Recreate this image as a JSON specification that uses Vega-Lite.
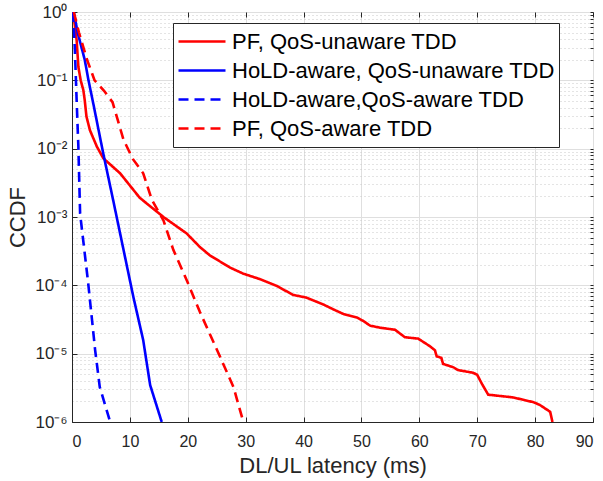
{
  "$schema": "https://vega.github.io/schema/vega-lite/v6.json",
  "autosize": {"type": "none"},
  "padding": {"left": 72, "top": 12, "right": 10, "bottom": 59},
  "width": 521,
  "height": 410,
  "background": "white",
  "config": {
    "font": "Liberation Sans",
    "view": {"stroke": "#262626", "strokeWidth": 1},
    "axis": {"labelFont": "Liberation Sans", "titleFont": "Liberation Sans", "labelColor": "#262626", "titleColor": "#262626", "domainColor": "#262626", "tickColor": "#262626", "titleFontWeight": "normal"}
  },
  "data": {"values": [
    {"series": "PF, QoS-unaware TDD", "i": 0, "x": 0.2, "y": 1},
    {"series": "PF, QoS-unaware TDD", "i": 1, "x": 0.8, "y": 0.389},
    {"series": "PF, QoS-unaware TDD", "i": 2, "x": 1.1, "y": 0.158},
    {"series": "PF, QoS-unaware TDD", "i": 3, "x": 1.5, "y": 0.1},
    {"series": "PF, QoS-unaware TDD", "i": 4, "x": 1.95, "y": 0.0724},
    {"series": "PF, QoS-unaware TDD", "i": 5, "x": 2.2, "y": 0.0513},
    {"series": "PF, QoS-unaware TDD", "i": 6, "x": 2.5, "y": 0.0295},
    {"series": "PF, QoS-unaware TDD", "i": 7, "x": 3.1, "y": 0.0186},
    {"series": "PF, QoS-unaware TDD", "i": 8, "x": 4.3, "y": 0.0107},
    {"series": "PF, QoS-unaware TDD", "i": 9, "x": 5.4, "y": 0.00724},
    {"series": "PF, QoS-unaware TDD", "i": 10, "x": 8.3, "y": 0.00437},
    {"series": "PF, QoS-unaware TDD", "i": 11, "x": 11.7, "y": 0.00191},
    {"series": "PF, QoS-unaware TDD", "i": 12, "x": 15.8, "y": 0.001},
    {"series": "PF, QoS-unaware TDD", "i": 13, "x": 19.8, "y": 0.000575},
    {"series": "PF, QoS-unaware TDD", "i": 14, "x": 22.1, "y": 0.000363},
    {"series": "PF, QoS-unaware TDD", "i": 15, "x": 23.8, "y": 0.000275},
    {"series": "PF, QoS-unaware TDD", "i": 16, "x": 27.3, "y": 0.000182},
    {"series": "PF, QoS-unaware TDD", "i": 17, "x": 29.6, "y": 0.000148},
    {"series": "PF, QoS-unaware TDD", "i": 18, "x": 32.5, "y": 0.000123},
    {"series": "PF, QoS-unaware TDD", "i": 19, "x": 35.4, "y": 0.0000977},
    {"series": "PF, QoS-unaware TDD", "i": 20, "x": 38.2, "y": 0.0000724},
    {"series": "PF, QoS-unaware TDD", "i": 21, "x": 40.5, "y": 0.0000661},
    {"series": "PF, QoS-unaware TDD", "i": 22, "x": 43.4, "y": 0.0000525},
    {"series": "PF, QoS-unaware TDD", "i": 23, "x": 45.1, "y": 0.0000447},
    {"series": "PF, QoS-unaware TDD", "i": 24, "x": 46.9, "y": 0.000038},
    {"series": "PF, QoS-unaware TDD", "i": 25, "x": 49.2, "y": 0.0000339},
    {"series": "PF, QoS-unaware TDD", "i": 26, "x": 50.3, "y": 0.0000302},
    {"series": "PF, QoS-unaware TDD", "i": 27, "x": 51.5, "y": 0.0000257},
    {"series": "PF, QoS-unaware TDD", "i": 28, "x": 53.2, "y": 0.000024},
    {"series": "PF, QoS-unaware TDD", "i": 29, "x": 55.8, "y": 0.0000224},
    {"series": "PF, QoS-unaware TDD", "i": 30, "x": 57.5, "y": 0.0000174},
    {"series": "PF, QoS-unaware TDD", "i": 31, "x": 59.8, "y": 0.0000166},
    {"series": "PF, QoS-unaware TDD", "i": 32, "x": 61.8, "y": 0.0000129},
    {"series": "PF, QoS-unaware TDD", "i": 33, "x": 62.7, "y": 0.0000112},
    {"series": "PF, QoS-unaware TDD", "i": 34, "x": 63.0, "y": 0.00000912},
    {"series": "PF, QoS-unaware TDD", "i": 35, "x": 63.8, "y": 0.00000871},
    {"series": "PF, QoS-unaware TDD", "i": 36, "x": 64.1, "y": 0.00000708},
    {"series": "PF, QoS-unaware TDD", "i": 37, "x": 65.9, "y": 0.00000631},
    {"series": "PF, QoS-unaware TDD", "i": 38, "x": 66.7, "y": 0.00000575},
    {"series": "PF, QoS-unaware TDD", "i": 39, "x": 69.3, "y": 0.00000525},
    {"series": "PF, QoS-unaware TDD", "i": 40, "x": 70.0, "y": 0.0000049},
    {"series": "PF, QoS-unaware TDD", "i": 41, "x": 70.8, "y": 0.00000363},
    {"series": "PF, QoS-unaware TDD", "i": 42, "x": 71.9, "y": 0.00000251},
    {"series": "PF, QoS-unaware TDD", "i": 43, "x": 76.2, "y": 0.00000229},
    {"series": "PF, QoS-unaware TDD", "i": 44, "x": 79.7, "y": 0.00000195},
    {"series": "PF, QoS-unaware TDD", "i": 45, "x": 80.8, "y": 0.00000178},
    {"series": "PF, QoS-unaware TDD", "i": 46, "x": 82.6, "y": 0.00000141},
    {"series": "PF, QoS-unaware TDD", "i": 47, "x": 83.0, "y": 0.000001},

    {"series": "HoLD-aware, QoS-unaware TDD", "i": 0, "x": 0.3, "y": 1},
    {"series": "HoLD-aware, QoS-unaware TDD", "i": 1, "x": 1.0, "y": 0.49},
    {"series": "HoLD-aware, QoS-unaware TDD", "i": 2, "x": 2.2, "y": 0.2},
    {"series": "HoLD-aware, QoS-unaware TDD", "i": 3, "x": 2.85, "y": 0.1},
    {"series": "HoLD-aware, QoS-unaware TDD", "i": 4, "x": 3.7, "y": 0.0447},
    {"series": "HoLD-aware, QoS-unaware TDD", "i": 5, "x": 5.4, "y": 0.0085},
    {"series": "HoLD-aware, QoS-unaware TDD", "i": 6, "x": 7.1, "y": 0.00178},
    {"series": "HoLD-aware, QoS-unaware TDD", "i": 7, "x": 8.9, "y": 0.000331},
    {"series": "HoLD-aware, QoS-unaware TDD", "i": 8, "x": 10.6, "y": 0.0000676},
    {"series": "HoLD-aware, QoS-unaware TDD", "i": 9, "x": 12.3, "y": 0.0000158},
    {"series": "HoLD-aware, QoS-unaware TDD", "i": 10, "x": 13.5, "y": 0.00000347},
    {"series": "HoLD-aware, QoS-unaware TDD", "i": 11, "x": 15.5, "y": 0.000001},

    {"series": "HoLD-aware,QoS-aware TDD", "i": 0, "x": 0.2, "y": 1},
    {"series": "HoLD-aware,QoS-aware TDD", "i": 1, "x": 0.5, "y": 0.275},
    {"series": "HoLD-aware,QoS-aware TDD", "i": 2, "x": 0.8, "y": 0.0513},
    {"series": "HoLD-aware,QoS-aware TDD", "i": 3, "x": 1.1, "y": 0.0107},
    {"series": "HoLD-aware,QoS-aware TDD", "i": 4, "x": 1.4, "y": 0.00112},
    {"series": "HoLD-aware,QoS-aware TDD", "i": 5, "x": 2.8, "y": 0.000107},
    {"series": "HoLD-aware,QoS-aware TDD", "i": 6, "x": 4.0, "y": 0.0000112},
    {"series": "HoLD-aware,QoS-aware TDD", "i": 7, "x": 4.8, "y": 0.00000324},
    {"series": "HoLD-aware,QoS-aware TDD", "i": 8, "x": 6.6, "y": 0.000001},

    {"series": "PF, QoS-aware TDD", "i": 0, "x": 0.3, "y": 1},
    {"series": "PF, QoS-aware TDD", "i": 1, "x": 1.2, "y": 0.501},
    {"series": "PF, QoS-aware TDD", "i": 2, "x": 2.6, "y": 0.2},
    {"series": "PF, QoS-aware TDD", "i": 3, "x": 3.9, "y": 0.1},
    {"series": "PF, QoS-aware TDD", "i": 4, "x": 5.5, "y": 0.0708},
    {"series": "PF, QoS-aware TDD", "i": 5, "x": 7.0, "y": 0.0479},
    {"series": "PF, QoS-aware TDD", "i": 6, "x": 8.9, "y": 0.0135},
    {"series": "PF, QoS-aware TDD", "i": 7, "x": 10.5, "y": 0.00708},
    {"series": "PF, QoS-aware TDD", "i": 8, "x": 12.3, "y": 0.00437},
    {"series": "PF, QoS-aware TDD", "i": 9, "x": 13.8, "y": 0.00178},
    {"series": "PF, QoS-aware TDD", "i": 10, "x": 15.8, "y": 0.000891},
    {"series": "PF, QoS-aware TDD", "i": 11, "x": 17.5, "y": 0.000331},
    {"series": "PF, QoS-aware TDD", "i": 12, "x": 19.8, "y": 0.00012},
    {"series": "PF, QoS-aware TDD", "i": 13, "x": 22.1, "y": 0.0000407},
    {"series": "PF, QoS-aware TDD", "i": 14, "x": 25.6, "y": 0.00000891},
    {"series": "PF, QoS-aware TDD", "i": 15, "x": 27.9, "y": 0.00000324},
    {"series": "PF, QoS-aware TDD", "i": 16, "x": 29.6, "y": 0.000001}
  ]},
  "resolve": {"axis": {"x": "independent", "y": "independent"}},
  "layer": [
    {
      "mark": {"type": "line", "opacity": 0, "strokeWidth": 1},
      "encoding": {
        "x": {"field": "x", "type": "quantitative", "scale": {"domain": [0, 90], "nice": false},
          "axis": {"orient": "top", "values": [0,10,20,30,40,50,60,70,80,90], "labels": false, "domain": false, "grid": false, "tickSize": -5, "title": null}},
        "y": {"field": "y", "type": "quantitative", "scale": {"type": "log", "domain": [0.000001, 1], "nice": false},
          "axis": {"orient": "right", "values": [0.000001,0.000002,0.000003,0.000004,0.000005,0.000006,0.000007,0.000008,0.000009,0.00001,0.00002,0.00003,0.00004,0.00005,0.00006,0.00007,0.00008,0.00009,0.0001,0.0002,0.0003,0.0004,0.0005,0.0006,0.0007,0.0008,0.0009,0.001,0.002,0.003,0.004,0.005,0.006,0.007,0.008,0.009,0.01,0.02,0.03,0.04,0.05,0.06,0.07,0.08,0.09,0.1,0.2,0.3,0.4,0.5,0.6,0.7,0.8,0.9,1], "labels": false, "domain": false, "grid": true, "gridColor": "#c8c8c8", "gridDash": [1, 3], "gridWidth": 1, "tickSize": -3, "title": null}},
        "detail": {"field": "series"},
        "order": {"field": "i"}
      }
    },
    {
      "mark": {"type": "line", "strokeWidth": 2.6, "clip": true},
      "encoding": {
        "x": {"field": "x", "type": "quantitative", "scale": {"domain": [0, 90], "nice": false},
          "axis": {"orient": "bottom", "values": [0,10,20,30,40,50,60,70,80,90], "grid": true, "gridColor": "#dfdfdf", "gridWidth": 1, "tickSize": -5, "labelPadding": 16, "labelFontSize": 16, "title": "DL/UL latency (ms)", "titleFontSize": 22, "titlePadding": 6}},
        "y": {"field": "y", "type": "quantitative", "scale": {"type": "log", "domain": [0.000001, 1], "nice": false},
          "axis": {"orient": "left", "values": [0.000001,0.00001,0.0001,0.001,0.01,0.1,1], "grid": true, "gridColor": "#dfdfdf", "gridWidth": 1, "tickSize": -5, "labelPadding": 10, "labelFontSize": 17,
            "labelExpr": "datum.value > 0.5 ? '10⁰' : datum.value > 0.05 ? '10⁻¹' : datum.value > 0.005 ? '10⁻²' : datum.value > 0.0005 ? '10⁻³' : datum.value > 0.00005 ? '10⁻⁴' : datum.value > 0.000005 ? '10⁻⁵' : '10⁻⁶'",
            "title": "CCDF", "titleFontSize": 22, "titlePadding": 5}},
        "color": {"field": "series", "type": "nominal",
          "scale": {"domain": ["PF, QoS-unaware TDD", "HoLD-aware, QoS-unaware TDD", "HoLD-aware,QoS-aware TDD", "PF, QoS-aware TDD"], "range": ["#ff0000", "#0000ff", "#0000ff", "#ff0000"]},
          "legend": {"orient": "none", "legendX": 101, "legendY": 11, "title": null, "fillColor": "white", "strokeColor": "#262626", "padding": 4, "symbolType": "stroke", "symbolSize": 2209, "symbolStrokeWidth": 2.6, "labelFontSize": 22, "labelColor": "#000000", "labelLimit": 500, "rowPadding": 0, "labelOffset": 5, "clipHeight": 29}},
        "strokeDash": {"field": "series", "type": "nominal",
          "scale": {"domain": ["PF, QoS-unaware TDD", "HoLD-aware, QoS-unaware TDD", "HoLD-aware,QoS-aware TDD", "PF, QoS-aware TDD"], "range": [[1, 0], [1, 0], [10, 6], [10, 6]]},
          "legend": {"orient": "none", "legendX": 101, "legendY": 11, "title": null, "fillColor": "white", "strokeColor": "#262626", "padding": 4, "symbolType": "stroke", "symbolSize": 2209, "symbolStrokeWidth": 2.6, "labelFontSize": 22, "labelColor": "#000000", "labelLimit": 500, "rowPadding": 0, "labelOffset": 5, "clipHeight": 29}},
        "order": {"field": "i"}
      }
    }
  ]
}
